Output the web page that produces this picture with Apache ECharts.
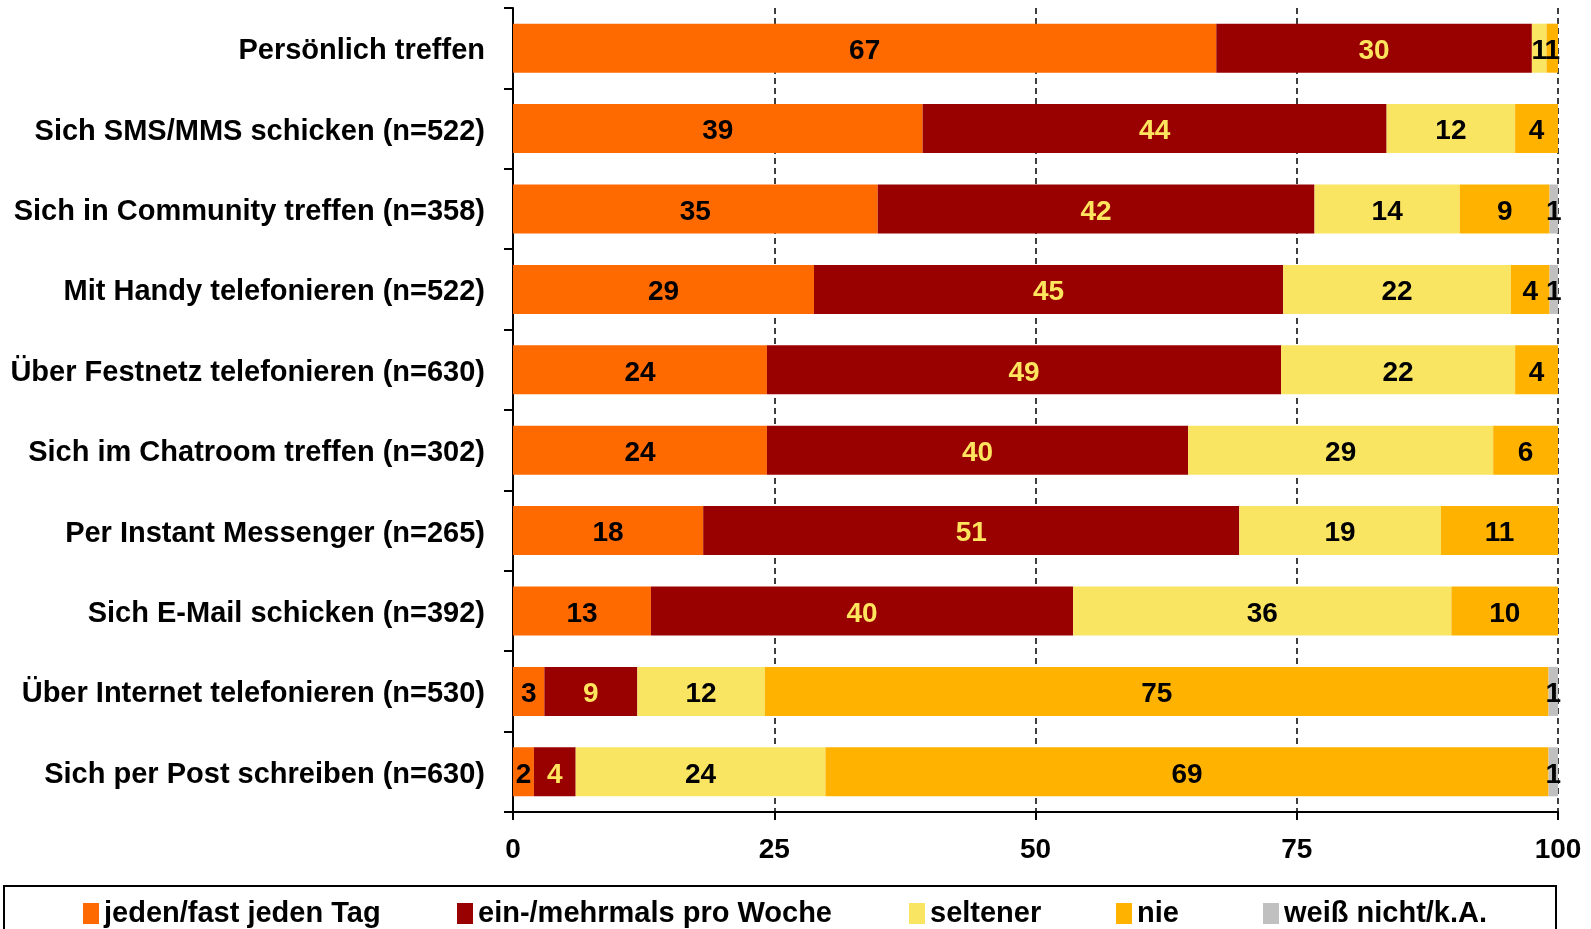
<!DOCTYPE html>
<html>
<head>
<meta charset="utf-8">
<script src="https://cdn.jsdelivr.net/npm/echarts@6/dist/echarts.min.js"></script>
<style>
html,body{margin:0;padding:0;background:#fff;}
#chart{width:1591px;height:929px;}
</style>
</head>
<body>
<div id="chart"></div>
<script>
const categories = [
  'Persönlich treffen',
  'Sich SMS/MMS schicken (n=522)',
  'Sich in Community treffen (n=358)',
  'Mit Handy telefonieren (n=522)',
  'Über Festnetz telefonieren (n=630)',
  'Sich im Chatroom treffen (n=302)',
  'Per Instant Messenger (n=265)',
  'Sich E-Mail schicken (n=392)',
  'Über Internet telefonieren (n=530)',
  'Sich per Post schreiben (n=630)'
];
const seriesNames = ['jeden/fast jeden Tag', 'ein-/mehrmals pro Woche', 'seltener', 'nie', 'weiß nicht/k.A.'];
const daily   = [67.3, 39.2, 34.9, 28.8, 24.3, 24.3, 18.2, 13.2, 3.0, 2.0];
const weekly  = [30.2, 44.4, 41.8, 44.9, 49.2, 40.3, 51.3, 40.4, 8.9, 4.0];
const rarely  = [1.4, 12.3, 13.9, 21.8, 22.4, 29.2, 19.3, 36.2, 12.2, 23.9];
const never   = [1.1, 4.1, 8.6, 3.7, 4.1, 6.2, 11.2, 10.2, 75.0, 69.2];
const unknown = [0, 0, 0.8, 0.8, 0, 0, 0, 0, 0.9, 0.9];
const xTicks = [0, 25, 50, 75, 100];

const colors = ['#FF6A00', '#990000', '#FAE562', '#FFB300', '#C0C0C0'];
const labelColors = ['#000', '#FFE55E', '#000', '#000', '#000'];
const dataSets = [daily, weekly, rarely, never, unknown];
const legendLefts = [83, 457, 909, 1116, 1263];

const chart = echarts.init(document.getElementById('chart'));
const fontFamily = 'Liberation Sans, Arial, sans-serif';

chart.setOption({
  animation: false,
  textStyle: {fontFamily: fontFamily},
  grid: {left: 513, right: 33, top: 8, bottom: 117, containLabel: false},
  legend: seriesNames.map((name, i) => ({
    data: [name],
    left: legendLefts[i],
    top: 899,
    padding: 0,
    icon: 'rect',
    itemWidth: 16,
    itemHeight: 21,
    textStyle: {fontSize: 29, fontWeight: 'bold', color: '#000', fontFamily: fontFamily},
    selectedMode: false
  })),
  graphic: [{
    type: 'rect',
    shape: {x: 4, y: 886, width: 1552, height: 60},
    style: {fill: 'none', stroke: '#000', lineWidth: 2},
    silent: true
  }],
  xAxis: {
    type: 'value',
    min: xTicks[0],
    max: xTicks[xTicks.length - 1],
    interval: 25,
    axisLine: {show: true, lineStyle: {color: '#000', width: 2}},
    axisTick: {show: true, length: 8, lineStyle: {color: '#000', width: 2}},
    axisLabel: {fontSize: 28, fontWeight: 'bold', color: '#000', margin: 24, fontFamily: fontFamily},
    splitLine: {show: true, lineStyle: {color: '#000', type: [6, 4], width: 1.5}}
  },
  yAxis: {
    type: 'category',
    data: categories,
    inverse: true,
    axisLine: {show: true, lineStyle: {color: '#000', width: 2}},
    axisTick: {show: true, length: 9, lineStyle: {color: '#000', width: 2}},
    axisLabel: {fontSize: 29, fontWeight: 'bold', color: '#000', margin: 28, fontFamily: fontFamily, verticalAlign: 'top', lineHeight: 6},
    splitLine: {show: false}
  },
  series: seriesNames.map((name, i) => ({
    name: name,
    type: 'bar',
    stack: 'total',
    barWidth: '61%',
    data: dataSets[i],
    itemStyle: {color: colors[i]},
    label: {
      show: true,
      position: 'inside',
      offset: [0, 3],
      fontSize: 28,
      fontWeight: 'bold',
      color: labelColors[i],
      fontFamily: fontFamily,
      formatter: p => (p.value >= 0.5 ? String(Math.round(p.value)) : '')
    }
  }))
});
</script>
</body>
</html>
